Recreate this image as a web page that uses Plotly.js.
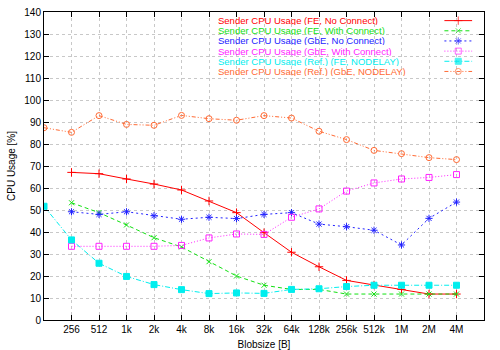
<!DOCTYPE html>
<html>
<head>
<meta charset="utf-8">
<script src="https://cdn.plot.ly/plotly-3.0.1.min.js"></script>
<style>
  html, body { margin: 0; padding: 0; background: #fff; }
  #plot { width: 500px; height: 350px; }
</style>
</head>
<body>
<div id="plot"></div>
<script>
// blob sizes, position 0 is the unlabeled 128 B point
const xPos = [0, 1, 2, 3, 4, 5, 6, 7, 8, 9, 10, 11, 12, 13, 14, 15];
const tickPos = [1, 2, 3, 4, 5, 6, 7, 8, 9, 10, 11, 12, 13, 14, 15];
const tickLabels = ['256', '512', '1k', '2k', '4k', '8k', '16k', '32k', '64k', '128k', '256k', '512k', '1M', '2M', '4M'];

const feNoConnect   = [null, 67.1, 66.5, 64.1, 61.8, 59.1, 54.1, 48.8, 39.7, 30.8, 24.2, 18.0, 15.9, 13.9, 11.8, 11.8];
const feConnect     = [null, 53.3, 48.8, 43.2, 37.4, 33.2, 26.5, 20.0, 15.8, 13.9, 13.9, 11.8, 11.8, 11.8, 11.8, 11.8];
const gbeNoConnect  = [null, 49.2, 48.0, 49.2, 47.4, 45.8, 46.7, 46.1, 48.0, 48.8, 43.6, 42.4, 40.8, 34.1, 46.2, 53.6];
const gbeConnect    = [null, 33.5, 33.5, 33.5, 33.5, 33.9, 37.3, 39.1, 38.9, 46.7, 50.5, 58.6, 62.3, 64.1, 64.8, 66.1];
const refFeNodelay  = [51.7, 36.4, 25.8, 19.8, 16.1, 13.8, 12.0, 12.3, 12.1, 13.9, 14.2, 15.2, 15.8, 15.8, 15.8, 15.8];
const refGbeNodelay = [87.4, 85.3, 92.9, 88.9, 88.5, 93.0, 91.5, 90.8, 92.9, 91.8, 85.8, 82.0, 77.1, 75.6, 73.8, 72.9];

const seriesNames = [
  'Sender CPU Usage (FE, No Connect)',
  'Sender CPU Usage (FE, With Connect)',
  'Sender CPU Usage (GbE, No Connect)',
  'Sender CPU Usage (GbE, With Connect)',
  'Sender CPU Usage (Ref.) (FE, NODELAY)',
  'Sender CPU Usage (Ref.) (GbE, NODELAY)'
];
const seriesValues = [feNoConnect, feConnect, gbeNoConnect, gbeConnect, refFeNodelay, refGbeNodelay];

const styles = [
  { color: '#ff0000', dash: 'solid',               symbol: 'cross-thin-open', size: 6 },
  { color: '#11e011', dash: '4px,3px',             symbol: 'x-thin-open',     size: 5 },
  { color: '#2222ff', dash: '2px,3px',             symbol: 'asterisk-open',   size: 6 },
  { color: '#ff22ff', dash: '1px,2px',             symbol: 'square-open',     size: 6 },
  { color: '#00eeee', dash: '5px,2px,1px,2px',     symbol: 'square',          size: 6 },
  { color: '#ff6a33', dash: '4px,2px,1px,2px,1px,2px', symbol: 'circle-open', size: 6 }
];

const font = 'Liberation Sans, Arial, sans-serif';
const data = [];
const annotations = [];

// legend row placement (paper coords within plot area)
const legTop = 0.972, legStep = 0.033;
const legX0 = 0.910, legX1 = 0.973, legTextX = 0.393;

seriesValues.forEach(function (vals, i) {
  const s = styles[i];
  data.push({
    x: xPos, y: vals, type: 'scatter', mode: 'lines+markers',
    connectgaps: false, showlegend: false, hoverinfo: 'skip',
    line: { color: s.color, width: 1, dash: s.dash },
    marker: { symbol: s.symbol, size: s.size, color: s.color, line: { color: s.color, width: 1 } }
  });
  const ly = legTop - i * legStep;
  // legend sample: line on overlay axes, marker in the middle
  data.push({
    x: [legX0, (legX0 + legX1) / 2, legX1], y: [ly, ly, ly],
    xaxis: 'x2', yaxis: 'y2', type: 'scatter', mode: 'lines+markers',
    showlegend: false, hoverinfo: 'skip',
    line: { color: s.color, width: 1, dash: s.dash },
    marker: { symbol: s.symbol, size: [0, s.size, 0], color: s.color, line: { color: s.color, width: 1 } }
  });
  annotations.push({
    xref: 'paper', yref: 'paper', x: legTextX, y: ly, xanchor: 'left', yanchor: 'middle',
    text: seriesNames[i], showarrow: false, height: 9, borderpad: 0,
    font: { family: font, size: 9.5, color: s.color }
  });
});

const layout = {
  width: 500, height: 350,
  margin: { l: 44, r: 16, t: 12, b: 30 },
  paper_bgcolor: '#fff', plot_bgcolor: '#fff',
  font: { family: font, size: 10, color: '#000' },
  showlegend: false,
  xaxis: {
    range: [0, 16], tickvals: tickPos, ticktext: tickLabels,
    showline: true, linecolor: '#000', linewidth: 1, mirror: 'allticks',
    ticks: 'inside', ticklen: 5, tickcolor: '#000',
    showgrid: true, gridcolor: '#c8c8c8', griddash: 'dot', gridwidth: 1,
    zeroline: false,
    title: { text: 'Blobsize [B]', font: { family: font, size: 10 }, standoff: 6 }
  },
  yaxis: {
    range: [0, 140], dtick: 10,
    showline: true, linecolor: '#000', linewidth: 1, mirror: 'allticks',
    ticks: 'inside', ticklen: 5, tickcolor: '#000',
    showgrid: true, gridcolor: '#c8c8c8', griddash: 'dot', gridwidth: 1,
    zeroline: false,
    title: { text: 'CPU Usage [%]', font: { family: font, size: 10 }, standoff: 6 }
  },
  xaxis2: { overlaying: 'x', range: [0, 1], visible: false },
  yaxis2: { overlaying: 'y', range: [0, 1], visible: false },
  annotations: annotations
};

Plotly.newPlot('plot', data, layout, { displayModeBar: false, staticPlot: true });
</script>
</body>
</html>
